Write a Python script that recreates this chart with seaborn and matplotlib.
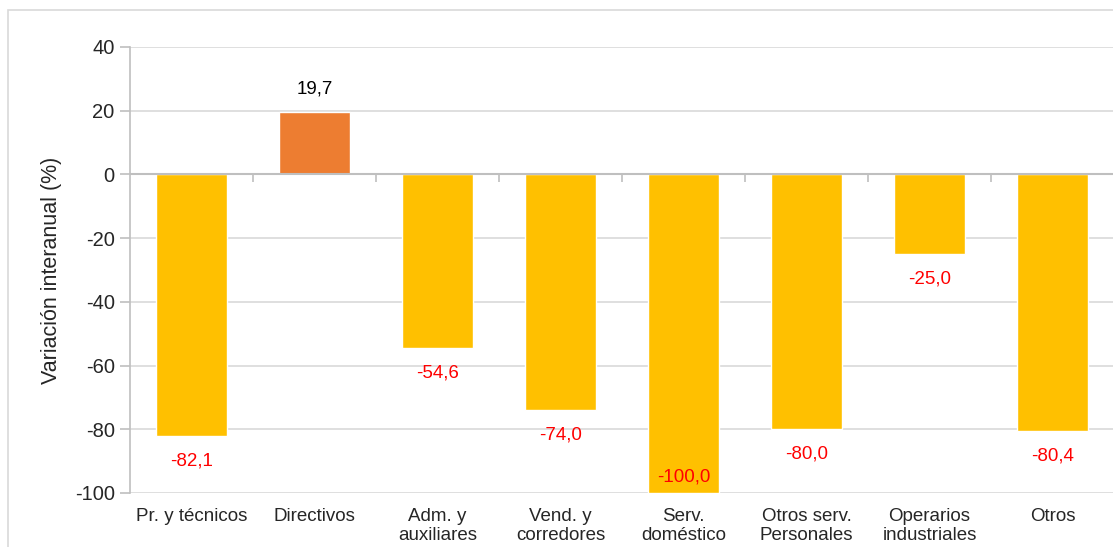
import matplotlib
matplotlib.use("Agg")
from matplotlib import pyplot as plt
from matplotlib.patches import Rectangle
import pandas as pd
import seaborn as sns

# chart data
categories = ["Pr. y técnicos", "Directivos", "Adm. y\nauxiliares", "Vend. y\ncorredores",
              "Serv.\ndoméstico", "Otros serv.\nPersonales", "Operarios\nindustriales", "Otros"]
values = [-82.1, 19.7, -54.6, -74.0, -100.0, -80.0, -25.0, -80.4]
bar_colors = ["#FFC000", "#ED7D31", "#FFC000", "#FFC000", "#FFC000", "#FFC000", "#FFC000", "#FFC000"]
y_ticks = [-100, -80, -60, -40, -20, 0, 20, 40]

df = pd.DataFrame({"cat": categories, "val": values})

sns.set_style("white")
plt.rcParams["font.family"] = ["Liberation Sans", "DejaVu Sans"]
plt.rcParams["axes.unicode_minus"] = False

fig = plt.figure(figsize=(11.13, 5.47), dpi=100)
ax = fig.add_axes([130 / 1113, 1 - 493 / 547, 984 / 1113, 446 / 547])

# light frame round the chart area
fig.patches.append(Rectangle((8 / 1113, -0.1), 1.2, 1.1 - 10 / 547,
                             transform=fig.transFigure, fill=False,
                             edgecolor="#d9d9d9", lw=1.2, zorder=-5))

sns.barplot(data=df, x="cat", y="val", hue="cat", palette=bar_colors,
            legend=False, width=0.585, saturation=1, ax=ax, zorder=3)

ax.set_ylim(-100, 40)
ax.set_xlim(-0.5, len(categories) - 0.5)
ax.set_yticks(y_ticks)
ax.yaxis.grid(True, color="#d9d9d9", lw=1.2, zorder=0)
ax.set_axisbelow(True)

for s in ["top", "right", "bottom"]:
    ax.spines[s].set_visible(False)
ax.spines["left"].set_color("#bfbfbf")
ax.spines["left"].set_linewidth(1.2)

ax.tick_params(axis="y", direction="out", length=7, width=1.2, color="#bfbfbf",
               labelsize=14.5, pad=4, left=True)
ax.tick_params(axis="x", length=0, labelsize=13.5, pad=11)
for lab in ax.get_xticklabels():
    lab.set_linespacing(1.1)
ax.set_xlabel("")
ax.set_ylabel("Variación interanual (%)", fontsize=15.5, labelpad=9)

# horizontal category axis drawn at zero with boundary ticks
zero_ax = ax.secondary_xaxis(100 / 140)
zero_ax.set_xticks([i + 0.5 for i in range(len(categories) - 1)])
zero_ax.tick_params(direction="out", length=6, width=1.2, color="#bfbfbf", labelbottom=False,
                    labeltop=False, bottom=True, top=False)
zero_ax.spines["bottom"].set_color("#bfbfbf")
zero_ax.spines["bottom"].set_linewidth(1.5)
zero_ax.spines["top"].set_visible(False)
ax.axhline(0, color="#bfbfbf", lw=1.5, zorder=4)

# value labels
for i, v in enumerate(values):
    txt = f"{v:.1f}".replace(".", ",")
    if v >= 0:
        ax.annotate(txt, (i, v), xytext=(0, 16), textcoords="offset points",
                    ha="center", va="center", fontsize=13.5, color="black")
    elif v - 12 < -100:
        ax.annotate(txt, (i, v), xytext=(0, 11.5), textcoords="offset points",
                    ha="center", va="center", fontsize=13.5, color="#FF0000", zorder=5)
    else:
        ax.annotate(txt, (i, v), xytext=(0, -18), textcoords="offset points",
                    ha="center", va="center", fontsize=13.5, color="#FF0000")

fig.savefig("out.png", dpi=100)
